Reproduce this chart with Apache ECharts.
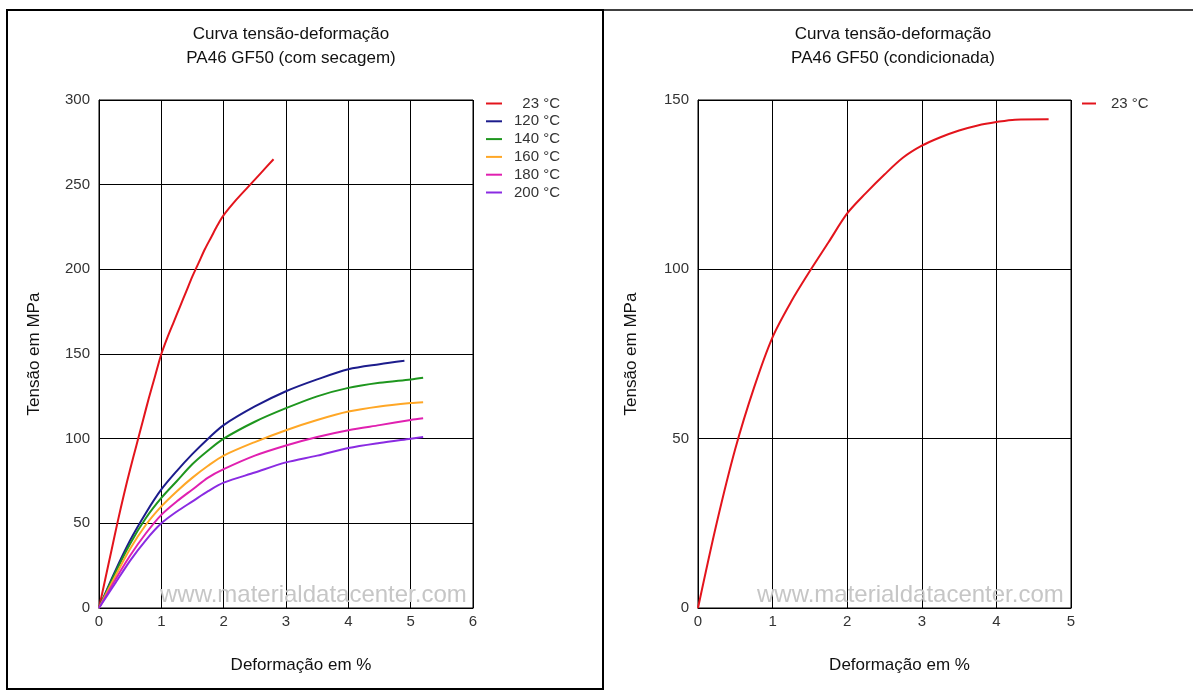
<!DOCTYPE html>
<html>
<head>
<meta charset="utf-8">
<script src="https://cdn.jsdelivr.net/npm/echarts@6/dist/echarts.min.js"></script>
<style>
html,body{margin:0;padding:0;background:#fff;}
#c{width:1193px;height:691px;}
</style>
</head>
<body>
<div id="c"></div>
<script>
// ---- data ----
const leftTitle = 'Curva tensão-deformação\nPA46 GF50 (com secagem)';
const rightTitle = 'Curva tensão-deformação\nPA46 GF50 (condicionada)';
const yAxisName = 'Tensão em MPa';
const xAxisName = 'Deformação em %';
const watermark = 'www.materialdatacenter.com';

const seriesNames = ['23 °C', '120 °C', '140 °C', '160 °C', '180 °C', '200 °C'];
const seriesColors = ['#e3141c', '#1c1c8c', '#1e961e', '#ffa726', '#e020b0', '#8a2be2'];

const strain23 = [0, 0.1, 0.2, 0.3, 0.4, 0.5, 0.6, 0.7, 0.8, 0.9, 1.0, 1.1, 1.2, 1.3, 1.4, 1.5, 1.6, 1.7, 1.8, 1.9, 2.0, 2.2, 2.4, 2.6, 2.8];
const stress23 = [0, 17, 34, 51, 67, 82, 96, 110, 124, 137, 150, 160, 169, 178, 187, 196, 204, 212, 219, 226, 232, 241, 249, 257, 265];

const strain120 = [0, 0.25, 0.5, 0.75, 1, 1.25, 1.5, 1.75, 2, 2.5, 3, 3.5, 4, 4.5, 4.9];
const stress120 = [0, 21, 40, 56, 70, 81, 91, 100, 108, 119, 128, 135, 141, 144, 146];

const strainHot = [0, 0.25, 0.5, 0.75, 1, 1.25, 1.5, 1.75, 2, 2.5, 3, 3.5, 4, 4.5, 5, 5.2];
const stress140 = [0, 20, 38, 53, 65, 75, 85, 93, 100, 110, 118, 125, 130, 133, 135, 136];
const stress160 = [0, 18, 35, 49, 60, 69, 77, 84, 90, 98, 105, 111, 116, 119, 121, 121.5];
const stress180 = [0, 16, 31, 44, 55, 63, 70, 77, 82, 90, 96, 101, 105, 108, 111, 112];
const stress200 = [0, 14, 28, 40, 50, 57, 63, 69, 74, 80, 86, 90, 94.5, 97.5, 100, 101];

const strainCond = [0, 0.25, 0.5, 0.75, 1, 1.25, 1.5, 1.75, 2, 2.25, 2.5, 2.75, 3, 3.25, 3.5, 3.75, 4, 4.25, 4.7];
const stressCond = [0, 25, 47, 65, 80, 90.5, 99.5, 108, 116.5, 122.5, 128, 133, 136.5, 139, 141, 142.5, 143.5, 144.2, 144.3];

// ---- chart ----
const pairs = (xs, ys) => xs.map((x, i) => [x, ys[i]]);
const font = 'Liberation Sans, Arial, sans-serif';

const leftData = [
  pairs(strain23, stress23),
  pairs(strain120, stress120),
  pairs(strainHot, stress140),
  pairs(strainHot, stress160),
  pairs(strainHot, stress180),
  pairs(strainHot, stress200)
];

const mkX = (gi, max) => ({
  type: 'value', gridIndex: gi, min: 0, max: max, interval: 1,
  name: xAxisName, nameLocation: 'middle', nameGap: 49,
  nameTextStyle: {color: '#111', fontSize: 17, fontFamily: font, padding: [0, 0, 0, 30]},
  axisLine: {show: true, lineStyle: {color: '#000', width: 1}},
  axisTick: {show: false},
  axisLabel: {color: '#333', fontSize: 15, fontFamily: font, margin: 6},
  splitLine: {show: true, lineStyle: {color: '#000', width: 1}}
});
const mkY = (gi, max, interval, gap) => ({
  type: 'value', gridIndex: gi, min: 0, max: max, interval: interval,
  name: yAxisName, nameLocation: 'middle', nameGap: gap, nameRotate: 90,
  nameTextStyle: {color: '#111', fontSize: 17, fontFamily: font},
  axisLine: {show: true, lineStyle: {color: '#000', width: 1}},
  axisTick: {show: false},
  axisLabel: {color: '#333', fontSize: 15, fontFamily: font, margin: 9},
  splitLine: {show: true, lineStyle: {color: '#000', width: 1}}
});

const series = [];
leftData.forEach((d, i) => {
  series.push({
    type: 'line', name: seriesNames[i], xAxisIndex: 0, yAxisIndex: 0,
    data: d, showSymbol: false, symbol: 'none', smooth: 0.3,
    lineStyle: {color: seriesColors[i], width: 2}, itemStyle: {color: seriesColors[i]},
    z: 3, animation: false
  });
});
series.push({
  type: 'line', name: seriesNames[0], xAxisIndex: 1, yAxisIndex: 1,
  data: pairs(strainCond, stressCond), showSymbol: false, symbol: 'none', smooth: 0.3,
  lineStyle: {color: seriesColors[0], width: 2}, itemStyle: {color: seriesColors[0]},
  z: 3, animation: false
});

const chart = echarts.init(document.getElementById('c'), null, {renderer: 'canvas'});
chart.setOption({
  backgroundColor: '#fff',
  animation: false,
  title: [
    {text: leftTitle, left: 286, top: 17, textAlign: 'center',
     textStyle: {color: '#111', fontSize: 17, fontWeight: 'normal', fontFamily: font, lineHeight: 24}},
    {text: rightTitle, left: 888, top: 17, textAlign: 'center',
     textStyle: {color: '#111', fontSize: 17, fontWeight: 'normal', fontFamily: font, lineHeight: 24}}
  ],
  legend: [
    {data: seriesNames, orient: 'vertical', left: 486, top: 96, itemWidth: 16, itemHeight: 2,
     icon: 'rect', itemGap: 2.8, padding: 0,
     formatter: n => '{a|' + n + '}',
     textStyle: {color: '#333', fontSize: 15, fontFamily: font,
       rich: {a: {width: 53, align: 'right', fontSize: 15, fontFamily: font, color: '#333', lineHeight: 16}}}},
    {data: [seriesNames[0]], orient: 'vertical', left: 1082, top: 96, itemWidth: 14, itemHeight: 2,
     icon: 'rect', padding: 0,
     formatter: n => '{a|' + n + '}',
     textStyle: {color: '#333', fontSize: 15, fontFamily: font,
       rich: {a: {padding: [0, 0, 0, 10], fontSize: 15, fontFamily: font, color: '#333', lineHeight: 16}}}}
  ],
  grid: [
    {left: 99, top: 100, width: 374, height: 508, show: true, borderColor: '#000', borderWidth: 1, backgroundColor: 'transparent'},
    {left: 698, top: 100, width: 373, height: 508, show: true, borderColor: '#000', borderWidth: 1, backgroundColor: 'transparent'}
  ],
  xAxis: [mkX(0, 6), mkX(1, 5)],
  yAxis: [mkY(0, 300, 50, 56), mkY(1, 150, 50, 58)],
  graphic: [
    {type: 'rect', shape: {x: 7, y: 10, width: 596, height: 679}, style: {fill: 'none', stroke: '#000', lineWidth: 2}, z: 10, silent: true},
    {type: 'line', shape: {x1: 603, y1: 10, x2: 1193, y2: 10}, style: {stroke: '#000', lineWidth: 1.5}, z: 10, silent: true},
    {type: 'text', left: 160, top: 583, z: 1, silent: true,
     style: {text: watermark, fill: '#c6c6c6', font: '24px ' + font}},
    {type: 'text', left: 757, top: 583, z: 1, silent: true,
     style: {text: watermark, fill: '#c6c6c6', font: '24px ' + font}}
  ],
  series: series
});
</script>
</body>
</html>
